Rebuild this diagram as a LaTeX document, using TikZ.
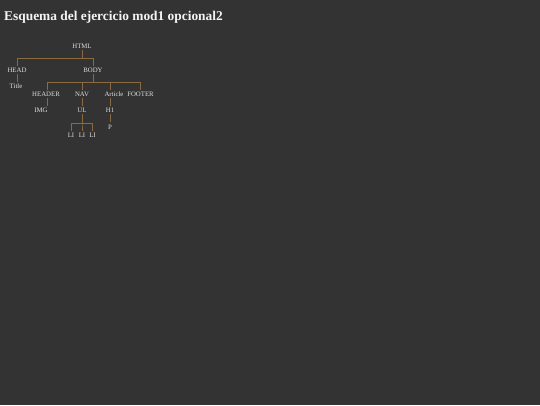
\documentclass[tikz,border=0pt]{standalone}
\usepackage{fontspec}
\setmainfont{Liberation Serif}
\definecolor{bg}{HTML}{333333}
\definecolor{txt}{HTML}{E0E0E0}
\definecolor{ttl}{HTML}{F4F4F4}
\definecolor{ln}{HTML}{8A6A3E}
\begin{document}
\begin{tikzpicture}[x=1pt,y=-1pt,
  lbl/.style={inner sep=0pt,anchor=base,text=txt,font=\fontsize{6.8}{8}\selectfont},
  conn/.style={draw=ln,line width=0.9pt}]
\fill[bg] (0,0) rectangle (540,405);
\useasboundingbox (0,0) rectangle (540,405);
\node[inner sep=0pt,anchor=base west,text=ttl,font=\fontsize{13.4}{16}\selectfont\bfseries] (title) at (4,20.8) {Esquema del ejercicio mod1 opcional2};
% nodes (baseline = cap centre + 2.3)
\node[lbl] (html) at (82,48.8) {HTML};
\node[lbl] (head) at (17,72.8) {HEAD};
\node[lbl] (body) at (93,72.8) {BODY};
\node[lbl] (titl) at (16,88.8) {Title};
\node[lbl] (header) at (46,96.8) {HEADER};
\node[lbl] (nav) at (82,96.8) {NAV};
\node[lbl] (article) at (114,96.8) {Article};
\node[lbl] (footer) at (140.5,96.8) {FOOTER};
\node[lbl] (img) at (41,112.8) {IMG};
\node[lbl] (ul) at (82,112.8) {UL};
\node[lbl] (h1) at (110,112.8) {H1};
\node[lbl] (p) at (110,129.8) {P};
\node[lbl] (li1) at (71,137.8) {LI};
\node[lbl] (li2) at (82,137.8) {LI};
\node[lbl] (li3) at (92.5,137.8) {LI};
% ports
\coordinate (htmlB) at (82,50);
\coordinate (headT) at (17,66);
\coordinate (headB) at (17,74);
\coordinate (bodyT) at (93,66);
\coordinate (bodyB) at (93,74);
\coordinate (titlT) at (17,82);
\coordinate (headerT) at (47,90);
\coordinate (headerB) at (47,98);
\coordinate (navT) at (82,90);
\coordinate (navB) at (82,98);
\coordinate (articleT) at (110,90);
\coordinate (articleB) at (110,98);
\coordinate (footerT) at (140,90);
\coordinate (imgT) at (47,106);
\coordinate (ulT) at (82,106);
\coordinate (ulB) at (82,114);
\coordinate (h1T) at (110,106);
\coordinate (h1B) at (110,114);
\coordinate (pT) at (110,122);
\coordinate (li1T) at (71,131);
\coordinate (li2T) at (82,131);
\coordinate (li3T) at (92.5,131);
% connectors
\draw[conn] (htmlB) -- ++(0,8) -| (headT);
\draw[conn] (htmlB) -- ++(0,8) -| (bodyT);
\draw[conn] (headB) -- (titlT);
\draw[conn] (bodyB) -- ++(0,8) -| (headerT);
\draw[conn] (bodyB) -- ++(0,8) -| (navT);
\draw[conn] (bodyB) -- ++(0,8) -| (articleT);
\draw[conn] (bodyB) -- ++(0,8) -| (footerT);
\draw[conn] (headerB) -- (imgT);
\draw[conn] (navB) -- (ulT);
\draw[conn] (articleB) -- (h1T);
\draw[conn] (h1B) -- (pT);
\draw[conn] (ulB) -- ++(0,9) -| (li1T);
\draw[conn] (ulB) -- ++(0,9) -| (li2T);
\draw[conn] (ulB) -- ++(0,9) -| (li3T);
\end{tikzpicture}
\end{document}
